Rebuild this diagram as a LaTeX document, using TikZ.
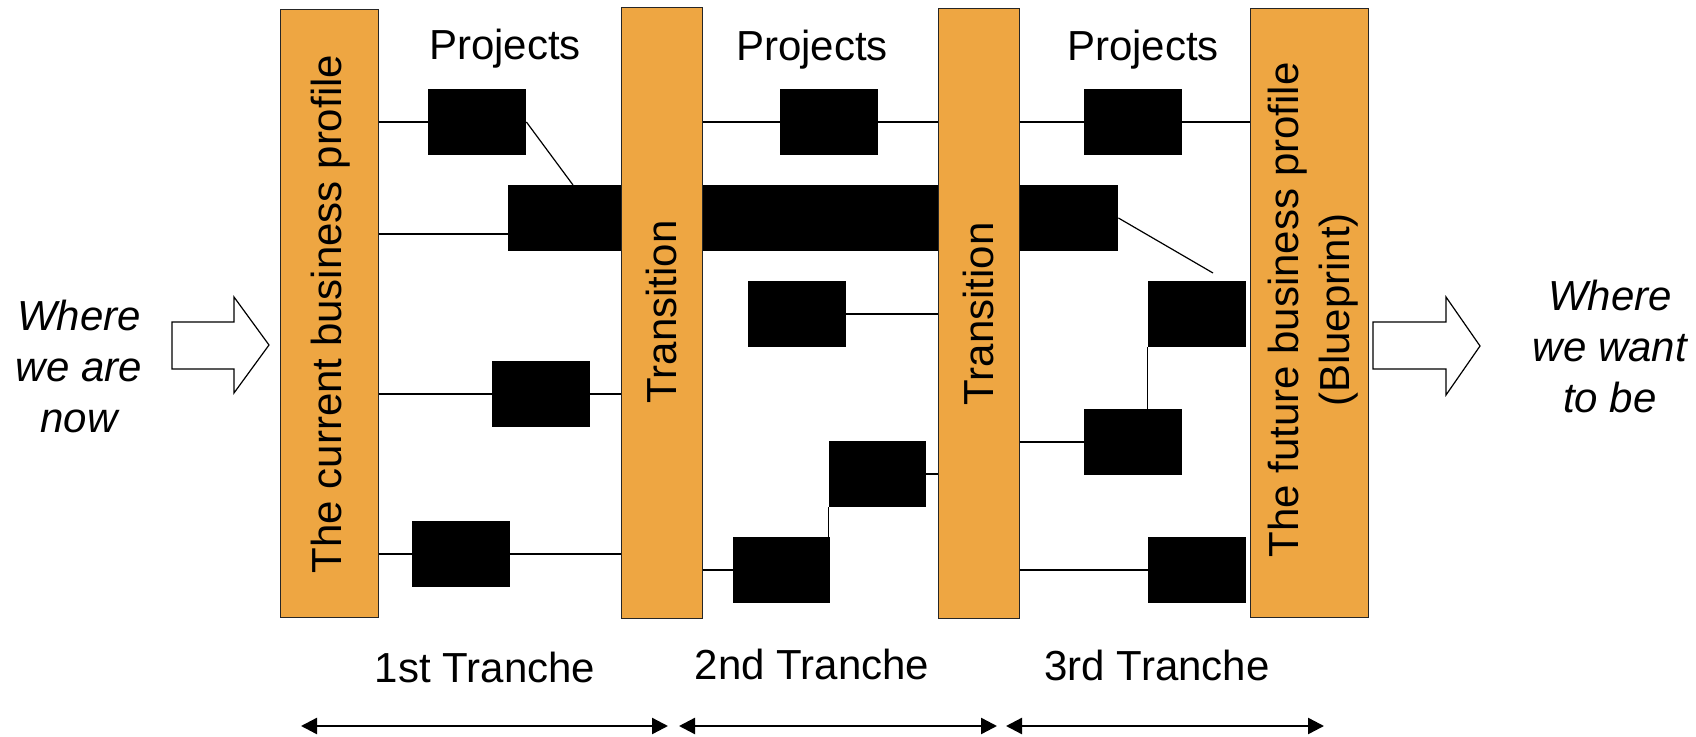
\documentclass[tikz,border=0pt]{standalone}
\usepackage{fontspec}
\setmainfont{Liberation Sans}
\usetikzlibrary{fit,arrows.meta}
\definecolor{barorange}{RGB}{238,166,66}
\begin{document}
\begin{tikzpicture}[x=0.5pt,y=-0.5pt,
  bar/.style={draw=black!85, line width=0.5pt, fill=barorange, inner sep=0pt},
  blk/.style={fill=black, draw=none, inner sep=0pt},
  lbl/.style={font=\fontsize{21}{25.5}\selectfont, inner sep=0pt, align=center},
  itl/.style={font=\fontsize{21}{25.5}\selectfont\itshape, align=center, inner sep=0pt},
  conn/.style={line width=0.6pt},
  span/.style={line width=1.2pt, {Triangle[length=8pt,width=8pt]}-{Triangle[length=8pt,width=8pt]}},
  bigarrow/.style={draw, line width=0.6pt, fill=white}
]
\useasboundingbox (0,0) rectangle (1696,737);

% project boxes
\node[blk, fit={(428,89) (526,155)}] (A) {};
\node[blk, fit={(508,185) (1118,251)}] (B) {};
\node[blk, fit={(492,361) (590,427)}] (C) {};
\node[blk, fit={(412,521) (510,587)}] (D) {};
\node[blk, fit={(780,89) (878,155)}] (E) {};
\node[blk, fit={(748,281) (846,347)}] (F) {};
\node[blk, fit={(829,441) (926,507)}] (G) {};
\node[blk, fit={(733,537) (830,603)}] (H) {};
\node[blk, fit={(1084,89) (1182,155)}] (I) {};
\node[blk, fit={(1148,281) (1246,347)}] (J) {};
\node[blk, fit={(1084,409) (1182,475)}] (K) {};
\node[blk, fit={(1148,537) (1246,603)}] (L) {};

% vertical bars
\node[bar, fit={(280,10) (378,617)}] (b1) {};
\node[bar, fit={(621,8) (702,618)}] (b2) {};
\node[bar, fit={(938,9) (1019,618)}] (b3) {};
\node[bar, fit={(1250,9) (1368,617)}] (b4) {};

\node[lbl, rotate=90] (t1) at (331,314) {The current business profile};
\node[lbl, rotate=90] (t2) at (661.5,312) {Transition};
\node[lbl, rotate=90] (t3) at (978,314) {Transition};
\node[lbl, rotate=90] (t4) at (1313,310) {The future business profile\\(Blueprint)};

% headings
\node[lbl, anchor=base] (p1) at (505,60) {Projects};
\node[lbl, anchor=base] (p2) at (812,61) {Projects};
\node[lbl, anchor=base] (p3) at (1143,61) {Projects};

\node[lbl, anchor=base] (r1) at (485,682) {1st Tranche};
\node[lbl, anchor=base] (r2) at (812,679) {2nd Tranche};
\node[lbl, anchor=base] (r3) at (1157,680) {3rd Tranche};

\node[itl] (now) at (79,366) {Where\\we are\\now};
\node[itl] (want) at (1610,346) {Where\\we want\\to be};

% big arrows
\draw[bigarrow] (172,322) -- (234,322) -- (234,297) -- (269,345) -- (234,393) -- (234,369) -- (172,369) -- cycle;
\draw[bigarrow] (1373,322) -- (1446,322) -- (1446,297) -- (1480,346) -- (1446,395) -- (1446,369) -- (1373,369) -- cycle;

% connectors
\coordinate (dAB) at (573,185);
\coordinate (lB) at (0,234);
\coordinate (dBJ) at (1213,273);
\draw[conn] (A.west -| b1.east) -- (A.west);
\draw[conn] (A.east) -- (dAB);
\draw[conn] (b1.east |- lB) -- (B.west |- lB);
\draw[conn] (C.west -| b1.east) -- (C.west);
\draw[conn] (C.east) -- (C.east -| b2.west);
\draw[conn] (D.west -| b1.east) -- (D.west);
\draw[conn] (D.east) -- (D.east -| b2.west);
\draw[conn] (E.west -| b2.east) -- (E.west);
\draw[conn] (E.east) -- (E.east -| b3.west);
\draw[conn] (F.east) -- (F.east -| b3.west);
\draw[conn] (G.east) -- (G.east -| b3.west);
\draw[conn] (H.west -| b2.east) -- (H.west);
\draw[conn] (G.south west) -- (G.south west |- H.north);
\draw[conn] (I.west -| b3.east) -- (I.west);
\draw[conn] (I.east) -- (I.east -| b4.west);
\draw[conn] (B.east) -- (dBJ);
\draw[conn] (J.south west) -- (J.south west |- K.north);
\draw[conn] (K.west -| b3.east) -- (K.west);
\draw[conn] (L.west -| b3.east) -- (L.west);

% tranche spans
\coordinate (sa1) at (301,726);
\coordinate (sa2) at (668,726);
\coordinate (sb1) at (679,726);
\coordinate (sb2) at (997,726);
\coordinate (sc1) at (1006,726);
\coordinate (sc2) at (1324,726);
\draw[span] (sa1) -- (sa2);
\draw[span] (sb1) -- (sb2);
\draw[span] (sc1) -- (sc2);
\end{tikzpicture}
\end{document}
